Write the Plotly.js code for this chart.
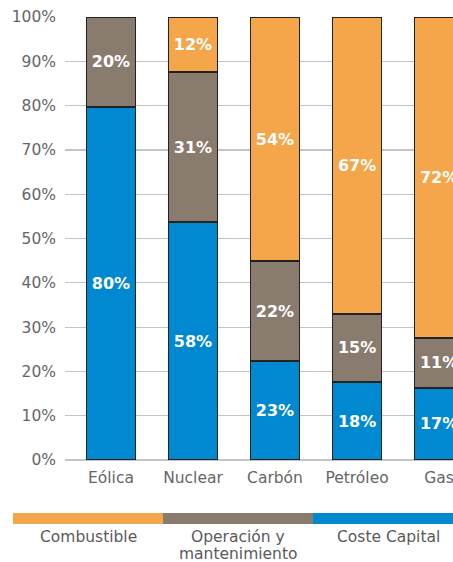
<!DOCTYPE html>
<html>
<head>
<meta charset="utf-8">
<script src="https://cdn.plot.ly/plotly-3.0.1.min.js"></script>
<style>html,body{margin:0;padding:0;background:#fff;}#chart{width:453px;height:562px;}</style>
</head>
<body>
<div id="chart"></div>
<script>
// Data
const categories = ['Eólica', 'Nuclear', 'Carbón', 'Petróleo', 'Gas'];
const costeCapital = [0.797, 0.537, 0.223, 0.176, 0.163];
const operacion = [0.203, 0.339, 0.226, 0.154, 0.112];
const combustible = [0.0, 0.124, 0.551, 0.670, 0.725];
const capitalLabels = ['80%', '58%', '23%', '18%', '17%'];
const operacionLabels = ['20%', '31%', '22%', '15%', '11%'];
const combustibleLabels = ['', '12%', '54%', '67%', '72%'];
const legendLines = [['Combustible'], ['Operación y', 'mantenimiento'], ['Coste Capital']];

const colors = {fuel: '#F5A64A', om: '#8A7B6F', cap: '#0089D0'};
const FONT = 'DejaVu Sans, Verdana, sans-serif';

function barTrace(name, y, text, color) {
  return {
    type: 'bar', name: name, x: categories, y: y, text: text,
    textposition: 'inside', insidetextanchor: 'middle',
    textfont: {family: FONT, size: 16, color: '#ffffff', weight: 'bold'},
    marker: {color: color, line: {color: '#222222', width: 1.5}},
    hoverinfo: 'skip'
  };
}

const data = [
  barTrace('Coste Capital', costeCapital, capitalLabels, colors.cap),
  barTrace('Operación y mantenimiento', operacion, operacionLabels, colors.om),
  barTrace('Combustible', combustible, combustibleLabels, colors.fuel)
];

// pixel -> paper helpers for the legend strip
const W = 453, H = 562, ML = 65, MR = 0, MT = 17, MB = 102;
const pw = W - ML - MR, ph = H - MT - MB;
const px = x => (x - ML) / pw;
const py = y => (H - MB - y) / ph;

const legendColors = [colors.fuel, colors.om, colors.cap];
const legendX = [[13, 163], [163, 313], [313, 463]];
const shapes = legendX.map((r, i) => ({
  type: 'rect', xref: 'paper', yref: 'paper',
  x0: px(r[0]), x1: px(r[1]), y0: py(524), y1: py(513),
  fillcolor: legendColors[i], line: {width: 0}, layer: 'above'
}));
const annotations = [];
legendX.forEach((r, i) => {
  legendLines[i].forEach((line, j) => {
    annotations.push({
      xref: 'paper', yref: 'paper', x: px((r[0] + r[1]) / 2), y: py(537 + 17 * j),
      xanchor: 'center', yanchor: 'middle', showarrow: false,
      text: line, font: {family: FONT, size: 15.5, color: '#5a5a5a'}
    });
  });
});

const layout = {
  width: W, height: H,
  margin: {l: ML, r: MR, t: MT, b: MB, pad: 0},
  paper_bgcolor: '#ffffff', plot_bgcolor: '#ffffff',
  barmode: 'stack', bargap: 0.4,
  showlegend: false,
  font: {family: FONT, size: 15, color: '#666666'},
  xaxis: {
    range: [-0.56, 4.17], showgrid: false, zeroline: false, showline: false,
    ticks: '', ticklabelstandoff: 6,
    tickfont: {family: FONT, size: 15.5, color: '#666666'}, fixedrange: true
  },
  yaxis: {
    range: [0, 1], tickvals: [0, 0.1, 0.2, 0.3, 0.4, 0.5, 0.6, 0.7, 0.8, 0.9, 1],
    tickformat: '.0%', showgrid: true, gridcolor: '#c4c4c4', gridwidth: 1.2,
    zeroline: true, zerolinecolor: '#c4c4c4', zerolinewidth: 1.2, showline: false,
    ticks: '', ticklabelstandoff: 8,
    tickfont: {family: FONT, size: 15.5, color: '#666666'}, fixedrange: true
  },
  shapes: shapes,
  annotations: annotations
};

Plotly.newPlot('chart', data, layout, {displayModeBar: false, staticPlot: true});
</script>
</body>
</html>
